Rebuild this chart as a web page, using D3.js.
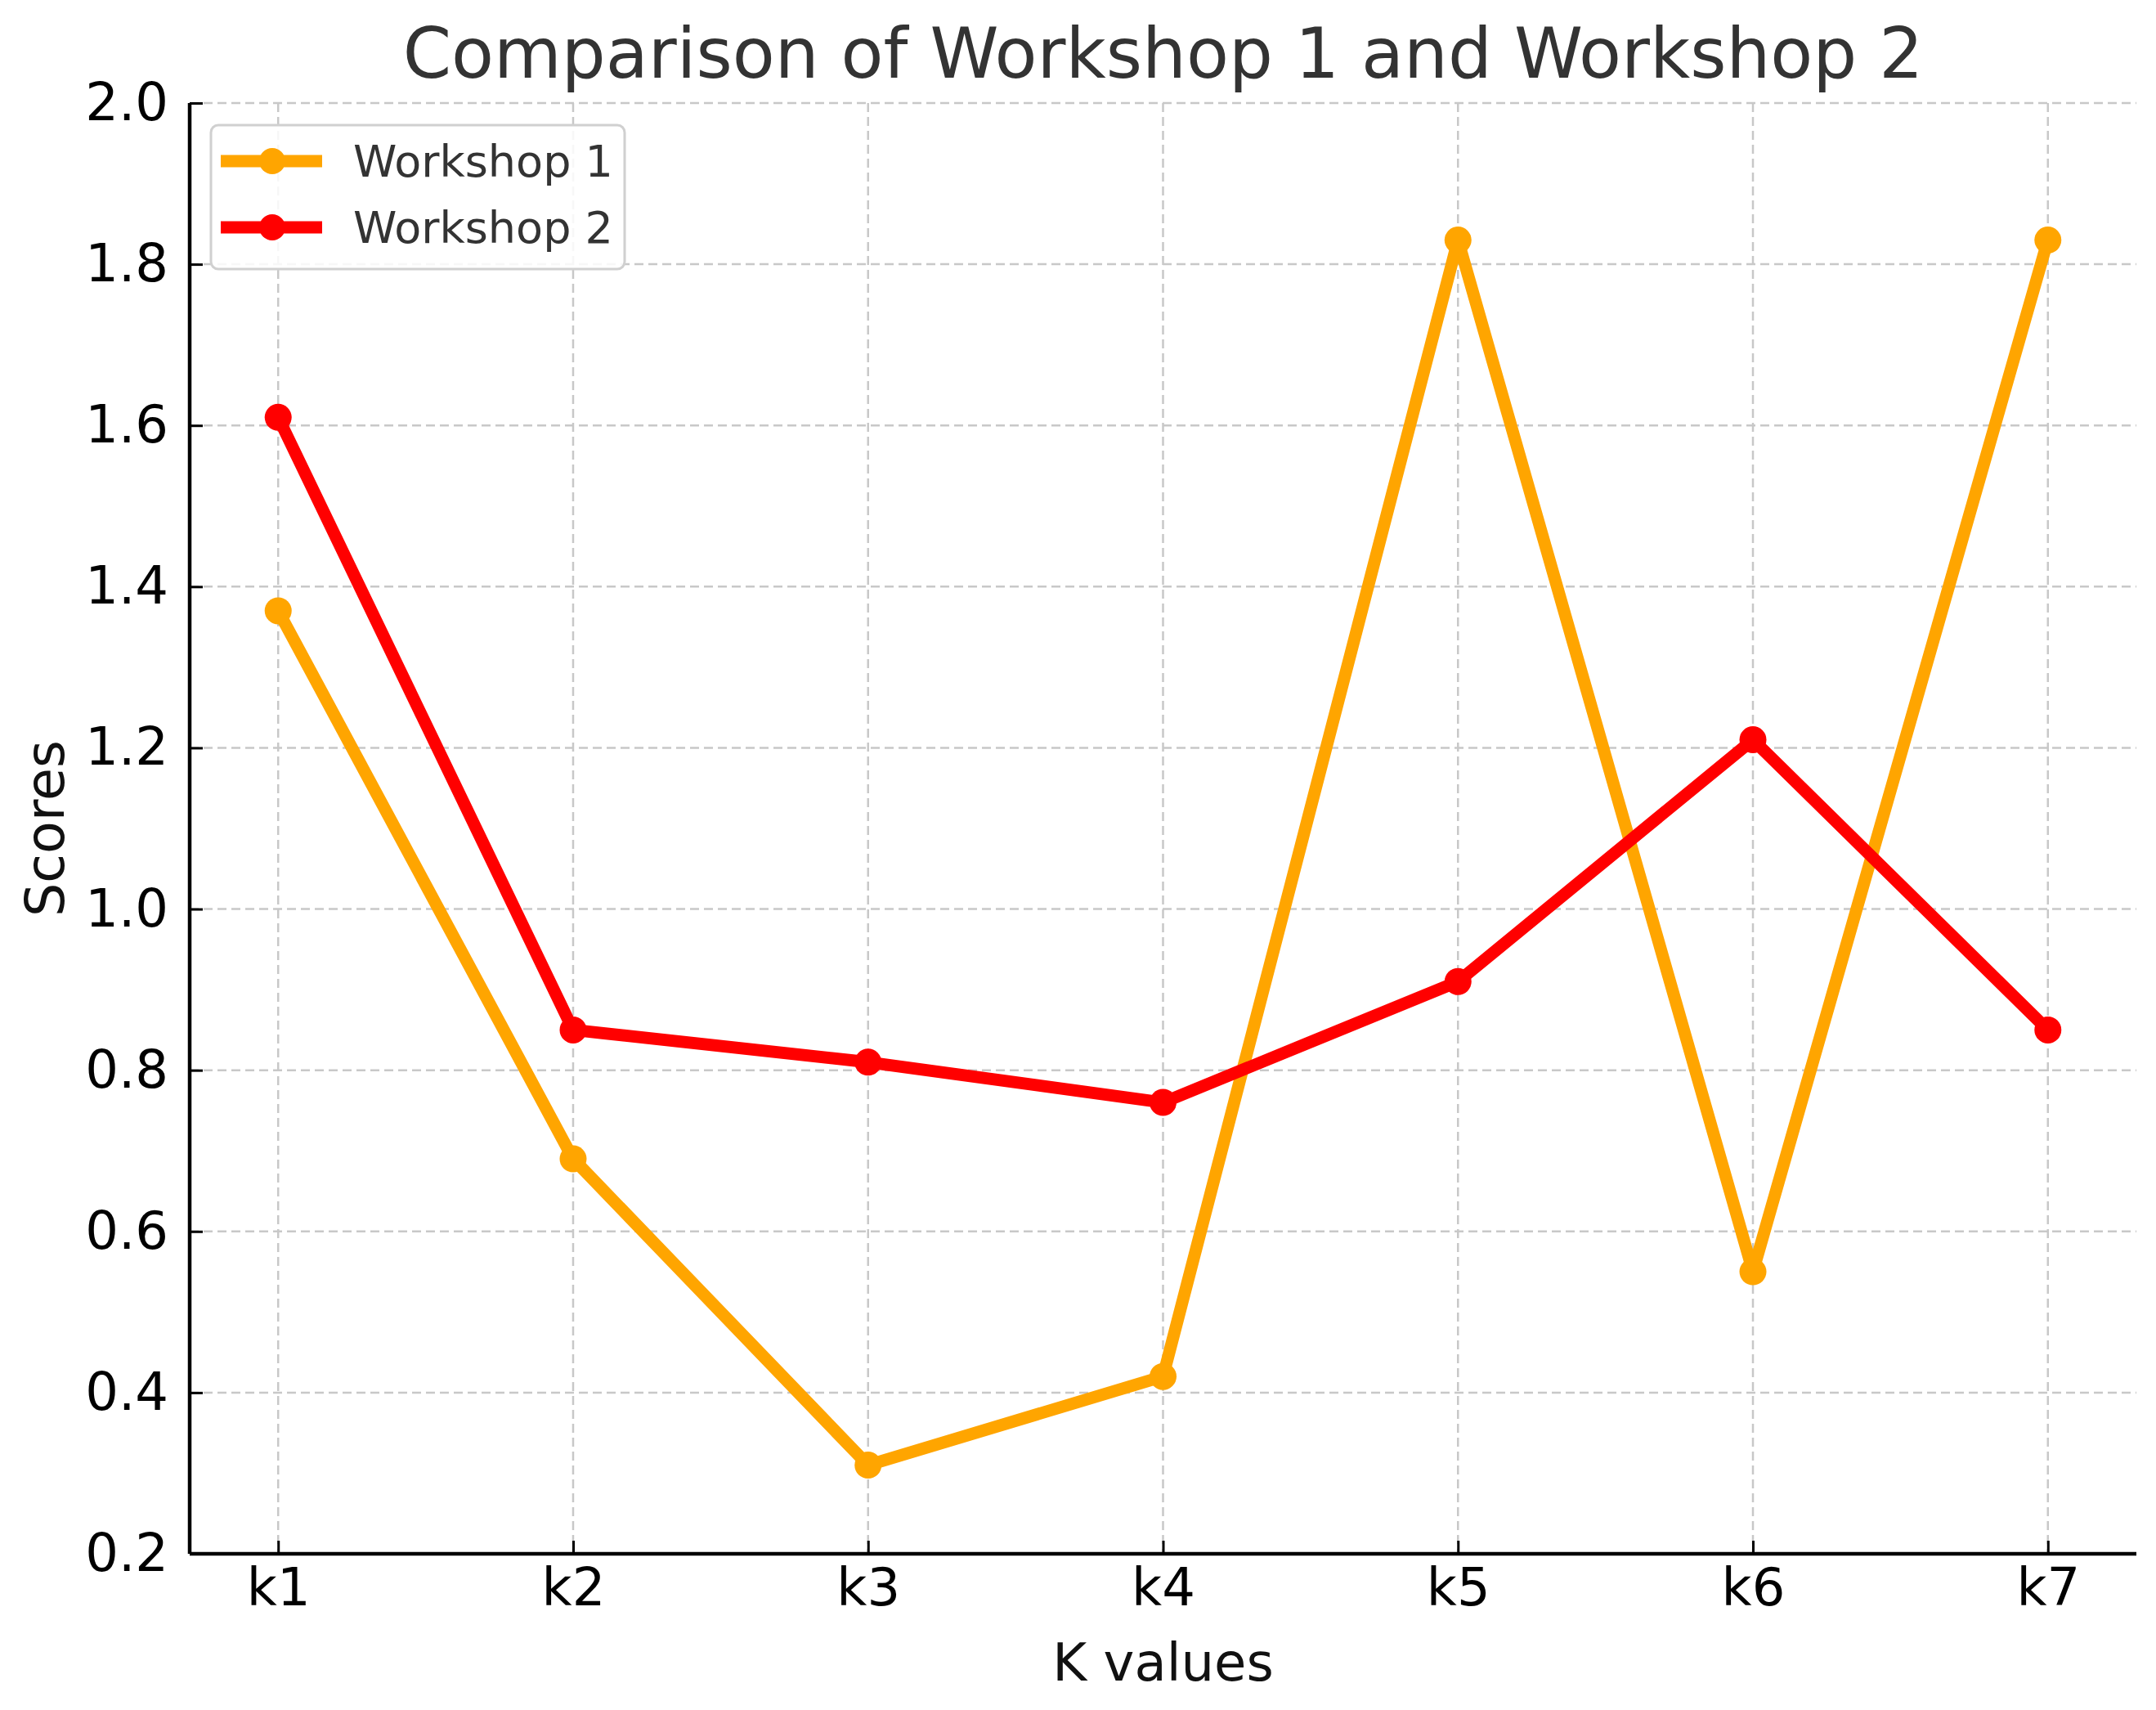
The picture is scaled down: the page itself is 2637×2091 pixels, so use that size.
<!DOCTYPE html>
<html>
<head>
<meta charset="utf-8">
<script src="https://cdn.jsdelivr.net/npm/d3@7"></script>
<style>
  body { margin: 0; background: #fff; }
  .vis { width: 2637px; height: 2091px; }
  text { font-family: "DejaVu Sans", sans-serif; }
</style>
</head>
<body>
<div class="vis"></div>
<script>
(function() {
  'use strict';

  var categories = ['k1', 'k2', 'k3', 'k4', 'k5', 'k6', 'k7'];
  var workshop1 = [1.37, 0.69, 0.31, 0.42, 1.83, 0.55, 1.83];
  var workshop2 = [1.61, 0.85, 0.81, 0.76, 0.91, 1.21, 0.85];
  var yTicks = [0.2, 0.4, 0.6, 0.8, 1.0, 1.2, 1.4, 1.6, 1.8, 2.0];
  var seriesNames = ['Workshop 1', 'Workshop 2'];
  var seriesColors = ['#FFA500', '#FF0000'];

  var elWidth = 2637,
    elHeight = 2091,
    margin = {top: 126, right: 24, bottom: 191, left: 232},
    width = elWidth - margin.left - margin.right,
    height = elHeight - margin.top - margin.bottom;

  var svg = d3.select('.vis').append('svg')
      .attr('width', elWidth)
      .attr('height', elHeight);

  var g = svg.append('g')
      .attr('transform', 'translate(' + margin.left + ',' + margin.top + ')');

  // index scale with matplotlib-like 5% padding
  var x = d3.scaleLinear()
    .domain([-0.3, categories.length - 1 + 0.3])
    .range([0, width]);

  var y = d3.scaleLinear()
    .domain([0.2, 2.0])
    .range([height, 0]);

  // grid
  g.append('g').selectAll('line')
    .data(yTicks)
    .enter().append('line')
      .attr('x1', 0).attr('x2', width)
      .attr('y1', function(d) { return y(d); })
      .attr('y2', function(d) { return y(d); })
      .attr('stroke', '#c8c8c8')
      .attr('stroke-width', 2.5)
      .attr('stroke-dasharray', '11,6');

  g.append('g').selectAll('line')
    .data(categories)
    .enter().append('line')
      .attr('x1', function(d, i) { return x(i); })
      .attr('x2', function(d, i) { return x(i); })
      .attr('y1', 0).attr('y2', height)
      .attr('stroke', '#c8c8c8')
      .attr('stroke-width', 2.5)
      .attr('stroke-dasharray', '11,6');

  // axes
  var xAxis = d3.axisBottom(x)
    .tickValues(d3.range(categories.length))
    .tickFormat(function(i) { return categories[i]; })
    .tickSize(16)
    .tickPadding(14);

  var yAxis = d3.axisLeft(y)
    .tickValues(yTicks)
    .tickFormat(d3.format('.1f'))
    .tickSize(16)
    .tickPadding(12);

  var gx = g.append('g')
    .attr('transform', 'translate(0,' + height + ')')
    .call(xAxis);
  var gy = g.append('g').call(yAxis);

  [gx, gy].forEach(function(ax) {
    ax.select('.domain').attr('stroke', '#000').attr('stroke-width', 4.5);
    ax.selectAll('.tick line').attr('stroke', '#000').attr('stroke-width', 3);
    ax.selectAll('.tick text')
      .attr('fill', '#000')
      .style('font-size', '64px')
      .style('font-family', '"DejaVu Sans", sans-serif');
  });
  gx.select('.domain').attr('d', 'M0,0H' + width);
  gy.select('.domain').attr('d', 'M0,' + height + 'V0');
  gx.selectAll('.tick line').attr('y2', -16);
  gy.selectAll('.tick line').attr('x2', 16);
  gx.selectAll('.tick text').attr('dy', '0.71em').attr('y', 18);
  gy.selectAll('.tick text').attr('x', -26);

  // lines
  var line = d3.line()
    .x(function(d, i) { return x(i); })
    .y(function(d) { return y(d); });

  [workshop1, workshop2].forEach(function(series, s) {
    g.append('path')
      .datum(series)
      .attr('fill', 'none')
      .attr('stroke', seriesColors[s])
      .attr('stroke-width', 15)
      .attr('stroke-linejoin', 'round')
      .attr('d', line);

    g.append('g').selectAll('circle')
      .data(series)
      .enter().append('circle')
        .attr('cx', function(d, i) { return x(i); })
        .attr('cy', function(d) { return y(d); })
        .attr('r', 16.5)
        .attr('fill', seriesColors[s]);
  });

  // legend
  var legend = svg.append('g').attr('transform', 'translate(258,153)');
  legend.append('rect')
    .attr('width', 506).attr('height', 176)
    .attr('rx', 9).attr('ry', 9)
    .attr('fill', 'rgba(255,255,255,0.85)')
    .attr('stroke', '#d0d0d0')
    .attr('stroke-width', 3);

  seriesNames.forEach(function(name, s) {
    var ry = 44 + s * 81;
    legend.append('line')
      .attr('x1', 12).attr('x2', 136)
      .attr('y1', ry).attr('y2', ry)
      .attr('stroke', seriesColors[s])
      .attr('stroke-width', 15);
    legend.append('circle')
      .attr('cx', 75).attr('cy', ry).attr('r', 16)
      .attr('fill', seriesColors[s]);
    legend.append('text')
      .attr('x', 174).attr('y', ry)
      .attr('dy', '0.36em')
      .attr('fill', '#333')
      .style('font-size', '54px')
      .text(name);
  });

  // title and labels
  svg.append('text')
    .attr('x', margin.left + width / 2)
    .attr('y', 95)
    .attr('text-anchor', 'middle')
    .attr('fill', '#333')
    .style('font-size', '85px')
    .text('Comparison of Workshop 1 and Workshop 2');

  svg.append('text')
    .attr('x', margin.left + width / 2)
    .attr('y', 2055)
    .attr('text-anchor', 'middle')
    .attr('fill', '#111')
    .style('font-size', '64px')
    .text('K values');

  svg.append('text')
    .attr('transform', 'translate(78,' + (margin.top + height / 2) + ') rotate(-90)')
    .attr('text-anchor', 'middle')
    .attr('fill', '#111')
    .style('font-size', '65px')
    .text('Scores');
}());
</script>
</body>
</html>
